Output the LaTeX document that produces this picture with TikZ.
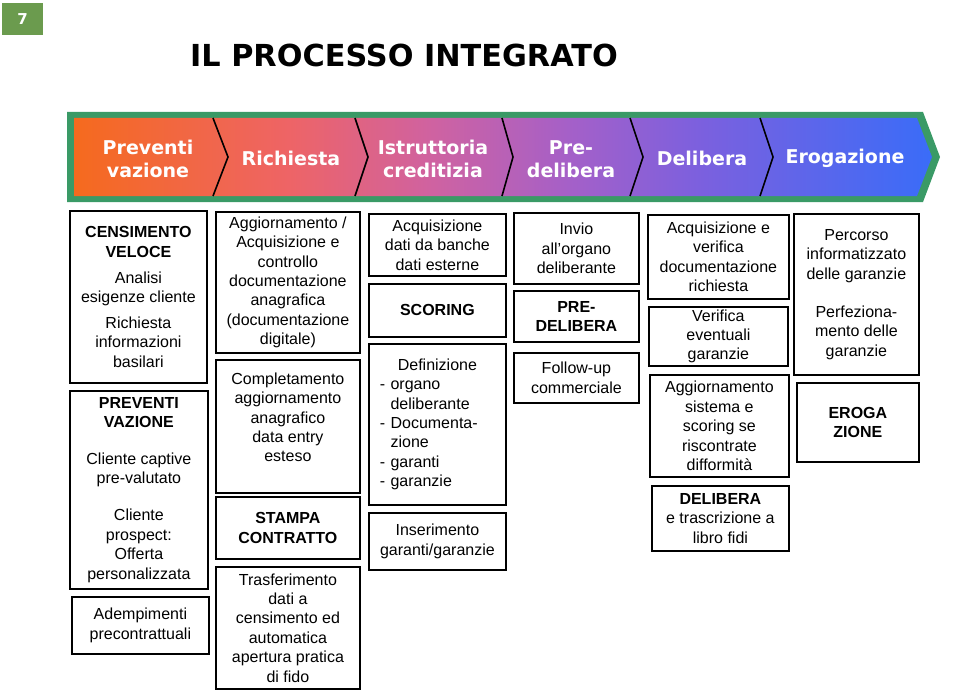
\documentclass[tikz,border=0pt]{standalone}
\usepackage{fontspec}
\setmainfont{Liberation Sans}
\newfontfamily\vfont{DejaVu Sans}
\usetikzlibrary{shapes, calc}

\definecolor{bordo}{HTML}{3A9A66}
\definecolor{badge}{HTML}{6B9B4E}
\definecolor{bandA}{HTML}{F56A1E}
\definecolor{bandB}{HTML}{EE6466}
\definecolor{bandC}{HTML}{D062A0}
\definecolor{bandD}{HTML}{A560C8}
\definecolor{bandE}{HTML}{7C60DE}
\definecolor{bandF}{HTML}{3A6CF8}
\pgfdeclarehorizontalshading{fascia}{100bp}{color(0bp)=(bandA); color(25bp)=(bandA);
  color(37.5bp)=(bandB); color(45.7bp)=(bandC); color(53.8bp)=(bandD);
  color(61.4bp)=(bandE); color(75bp)=(bandF); color(100bp)=(bandF)}

\begin{document}
\begin{tikzpicture}[x=1pt, y=-1pt,
	box/.style={draw, line width=1.8pt, rectangle, anchor=north west, align=center,
		inner sep=2pt, font=\fontsize{16}{19.4}\selectfont},
	fase/.style={text=white, align=center, font=\vfont\bfseries\fontsize{19}{23}\selectfont},
	sep/.style={line width=1.6pt}]

	\useasboundingbox (0,0) rectangle (960,690);

	\node[fill=badge, minimum width=41pt, minimum height=32pt, anchor=north west,
		text=white, font=\vfont\bfseries\fontsize{15}{15}\selectfont] (num) at (2,3) {7};
	\node[anchor=base, font=\vfont\bfseries\fontsize{30.3}{30}\selectfont] (titolo) at (404,67) {IL PROCESSO INTEGRATO};

	% fascia delle fasi
	\fill[bordo] (67,112) -- (923,112) -- (940,157) -- (923,202) -- (67,202) -- cycle;
	\shade[shading=fascia] (74,118) -- (917,118) -- (932,157) -- (917,196) -- (74,196) -- cycle;
	\foreach \xa/\xb in {213/228, 355/368, 502/513, 630/643, 760/773}
		\draw[sep] (\xa,118) -- (\xb,157) -- (\xa,196);

	\node[fase] (fPrev) at (148,159) {Preventi\\vazione};
	\node[fase] (fRich) at (291,158) {Richiesta};
	\node[fase] (fIstr) at (433,159) {Istruttoria\\creditizia};
	\node[fase] (fPred) at (571,159) {Pre-\\delibera};
	\node[fase] (fDeli) at (702,158) {Delibera};
	\node[fase] (fErog) at (845,158) {Erogazione};

	% prima colonna
	\node[box, minimum width=137pt, minimum height=172pt] (censim) at (69,210)
		{\textbf{CENSIMENTO}\\\textbf{VELOCE}\\[7pt]Analisi\\esigenze cliente\\[6pt]Richiesta\\informazioni\\basilari};
	\node[box, minimum width=138pt, minimum height=198pt] (preven) at (69,390)
		{\textbf{PREVENTI}\\\textbf{VAZIONE}\\[17pt]Cliente captive\\pre-valutato\\[18pt]Cliente\\prospect:\\Offerta\\personalizzata};
	\node[box, minimum width=137pt, minimum height=57pt] (adempi) at (71,596)
		{Adempimenti\\precontrattuali};

	% seconda colonna
	\node[box, minimum width=144pt, minimum height=141pt] (aggior) at (215,211)
		{Aggiornamento /\\Acquisizione e\\controllo\\documentazione\\anagrafica\\(documentazione\\digitale)};
	\node[box, minimum width=144pt, minimum height=133pt] (comple) at (215,359)
		{Completamento\\aggiornamento\\anagrafico\\data entry\\esteso\\[-1pt]\mbox{}};
	\node[box, minimum width=144pt, minimum height=62pt] (stampa) at (215,496)
		{\textbf{STAMPA}\\\textbf{CONTRATTO}};
	\node[box, minimum width=144pt, minimum height=122pt] (trasfe) at (215,566)
		{Trasferimento\\dati a\\censimento ed\\automatica\\apertura pratica\\di fido};

	% terza colonna
	\node[box, minimum width=137pt, minimum height=62pt] (acquis) at (368,213)
		{Acquisizione\\dati da banche\\dati esterne};
	\node[box, minimum width=137pt, minimum height=53pt] (scorin) at (368,283)
		{\textbf{SCORING}};
	\node[box, minimum width=137pt, minimum height=161pt, text width=115pt, align=left, inner xsep=11pt] (defini) at (368,343)
		{{\centering Definizione\par}- organo\\\phantom{- }deliberante\\- Documenta-\\\phantom{- }zione\\- garanti\\- garanzie};
	\node[box, minimum width=137pt, minimum height=57pt] (inseri) at (368,512)
		{Inserimento\\garanti/garanzie};

	% quarta colonna
	\node[box, minimum width=125pt, minimum height=71pt] (invio) at (513,212)
		{Invio\\all’organo\\deliberante};
	\node[box, minimum width=125pt, minimum height=51pt] (predel) at (513,290)
		{\textbf{PRE-}\\\textbf{DELIBERA}};
	\node[box, minimum width=125pt, minimum height=50pt] (follow) at (513,352)
		{Follow-up\\commerciale};

	% quinta colonna
	\node[box, minimum width=141pt, minimum height=84pt] (acqver) at (647,214)
		{Acquisizione e\\verifica\\documentazione\\richiesta};
	\node[box, minimum width=139pt, minimum height=59pt] (verifi) at (648,306)
		{Verifica\\eventuali\\garanzie};
	\node[box, minimum width=139pt, minimum height=102pt] (aggsis) at (649,374)
		{Aggiornamento\\sistema e\\scoring se\\riscontrate\\difformità};
	\node[box, minimum width=137pt, minimum height=65pt] (delibe) at (651,485)
		{\textbf{DELIBERA}\\e trascrizione a\\libro fidi};

	% sesta colonna
	\node[box, minimum width=125pt, minimum height=161pt] (percor) at (793,213)
		{Percorso\\informatizzato\\delle garanzie\\[19pt]Perfeziona-\\mento delle\\garanzie};
	\node[box, minimum width=122pt, minimum height=79pt] (erogaz) at (796,382)
		{\textbf{EROGA}\\\textbf{ZIONE}};
\end{tikzpicture}
\end{document}
